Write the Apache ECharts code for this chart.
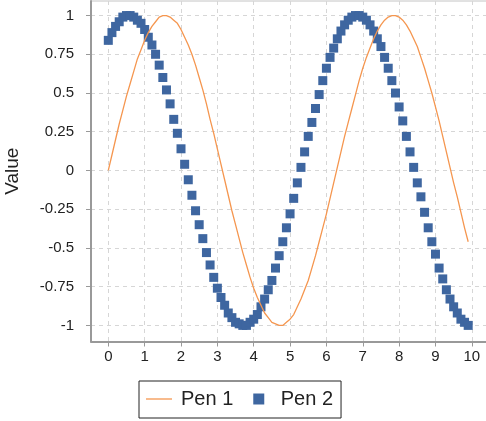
<!DOCTYPE html>
<html>
<head>
<meta charset="utf-8">
<script src="https://cdn.jsdelivr.net/npm/echarts@6/dist/echarts.min.js"></script>
<style>
html,body{margin:0;padding:0;background:#fff;}
#chart{width:486px;height:421px;}
</style>
</head>
<body>
<div id="chart"></div>
<script>
const xValues = [0.0,0.1,0.2,0.3,0.4,0.5,0.6,0.7,0.8,0.9,1.0,1.1,1.2,1.3,1.4,1.5,1.6,1.7,1.8,1.9,2.0,2.1,2.2,2.3,2.4,2.5,2.6,2.7,2.8,2.9,3.0,3.1,3.2,3.3,3.4,3.5,3.6,3.7,3.8,3.9,4.0,4.1,4.2,4.3,4.4,4.5,4.6,4.7,4.8,4.9,5.0,5.1,5.2,5.3,5.4,5.5,5.6,5.7,5.8,5.9,6.0,6.1,6.2,6.3,6.4,6.5,6.6,6.7,6.8,6.9,7.0,7.1,7.2,7.3,7.4,7.5,7.6,7.7,7.8,7.9,8.0,8.1,8.2,8.3,8.4,8.5,8.6,8.7,8.8,8.9,9.0,9.1,9.2,9.3,9.4,9.5,9.6,9.7,9.8,9.9];
const pen1 = [0.00,0.10,0.20,0.30,0.39,0.48,0.56,0.64,0.72,0.78,0.84,0.89,0.93,0.96,0.99,1.00,1.00,0.99,0.97,0.95,0.91,0.86,0.81,0.75,0.68,0.60,0.52,0.43,0.33,0.24,0.14,0.04,-0.06,-0.16,-0.26,-0.35,-0.44,-0.53,-0.61,-0.69,-0.76,-0.82,-0.87,-0.92,-0.95,-0.98,-0.99,-1.00,-1.00,-0.98,-0.96,-0.93,-0.88,-0.83,-0.77,-0.71,-0.63,-0.55,-0.46,-0.37,-0.28,-0.18,-0.08,0.02,0.12,0.22,0.31,0.40,0.49,0.58,0.66,0.73,0.79,0.85,0.90,0.94,0.97,0.99,1.00,1.00,0.99,0.97,0.94,0.90,0.85,0.80,0.73,0.66,0.58,0.50,0.41,0.32,0.22,0.12,0.02,-0.08,-0.17,-0.27,-0.37,-0.46];
const pen2 = [0.84,0.89,0.93,0.96,0.99,1.00,1.00,0.99,0.97,0.95,0.91,0.86,0.81,0.75,0.68,0.60,0.52,0.43,0.33,0.24,0.14,0.04,-0.06,-0.16,-0.26,-0.35,-0.44,-0.53,-0.61,-0.69,-0.76,-0.82,-0.87,-0.92,-0.95,-0.98,-0.99,-1.00,-1.00,-0.98,-0.96,-0.93,-0.88,-0.83,-0.77,-0.71,-0.63,-0.55,-0.46,-0.37,-0.28,-0.18,-0.08,0.02,0.12,0.22,0.31,0.40,0.49,0.58,0.66,0.73,0.79,0.85,0.90,0.94,0.97,0.99,1.00,1.00,0.99,0.97,0.94,0.90,0.85,0.80,0.73,0.66,0.58,0.50,0.41,0.32,0.22,0.12,0.02,-0.08,-0.17,-0.27,-0.37,-0.46,-0.54,-0.63,-0.70,-0.77,-0.83,-0.88,-0.92,-0.96,-0.98,-1.00];
const xTicks = [0,1,2,3,4,5,6,7,8,9,10];
const yTicks = [-1,-0.75,-0.5,-0.25,0,0.25,0.5,0.75,1];
const seriesNames = ['Pen 1','Pen 2'];
const yTitle = 'Value';

const FONT = '"Liberation Sans", Arial, sans-serif';
const ORANGE = '#f5964f';
const BLUE = '#3e66a0';
const chart = echarts.init(document.getElementById('chart'), null, {renderer:'canvas'});
chart.setOption({
  animation:false,
  backgroundColor:'#fff',
  grid:{left:91, top:1, width:399, height:340.5, outerBoundsMode:'none', containLabel:false,
        show:true, borderColor:'#c4c4c4', borderWidth:1, backgroundColor:'transparent'},
  legend:{
    left:139, top:381,
    padding:[8,8,9,7],
    borderColor:'#222', borderWidth:1,
    itemWidth:26, itemHeight:11, itemGap:20,
    textStyle:{fontFamily:FONT, fontSize:20, color:'#222', padding:[0,0,0,4]},
    data:[
      {name:seriesNames[0], icon:'path://M0,0L26,0L26,1.3L0,1.3Z'},
      {name:seriesNames[1], icon:'path://M0,0L10,0L10,10L0,10Z'}
    ],
    selectedMode:false
  },
  xAxis:{
    type:'value', min:-0.476, max:10.5, minInterval:1, maxInterval:1,
    axisLine:{show:true, onZero:false, lineStyle:{color:'#999', width:2}},
    axisTick:{show:true, length:5, customValues:xTicks, lineStyle:{color:'#999'}},
    axisLabel:{customValues:xTicks, margin:8, fontFamily:FONT, fontSize:15, color:'#222'},
    splitLine:{show:true, lineStyle:{color:'#d6d6d6', type:[4,4], width:1}}
  },
  yAxis:{
    type:'value', min:-1.104, max:1.094, minInterval:0.25, maxInterval:0.25,
    name:yTitle, nameLocation:'middle', nameGap:69, nameRotate:90,
    nameTextStyle:{fontFamily:FONT, fontSize:19, color:'#222'},
    axisLine:{show:true, onZero:false, lineStyle:{color:'#999', width:2}},
    axisTick:{show:true, length:5, customValues:yTicks, lineStyle:{color:'#999'}},
    axisLabel:{customValues:yTicks, margin:17, fontFamily:FONT, fontSize:15, color:'#222'},
    splitLine:{show:true, lineStyle:{color:'#d6d6d6', type:[4,4], width:1}}
  },
  series:[
    {name:seriesNames[0], type:'line', data:xValues.map((x,i)=>[x,pen1[i]]), symbol:'none', showSymbol:false,
     lineStyle:{color:ORANGE, width:1.3}, itemStyle:{color:ORANGE}, z:5},
    {name:seriesNames[1], type:'scatter', data:xValues.map((x,i)=>[x,pen2[i]]), symbol:'rect', symbolSize:9,
     itemStyle:{color:BLUE, opacity:1}, z:3}
  ]
});
</script>
</body>
</html>
